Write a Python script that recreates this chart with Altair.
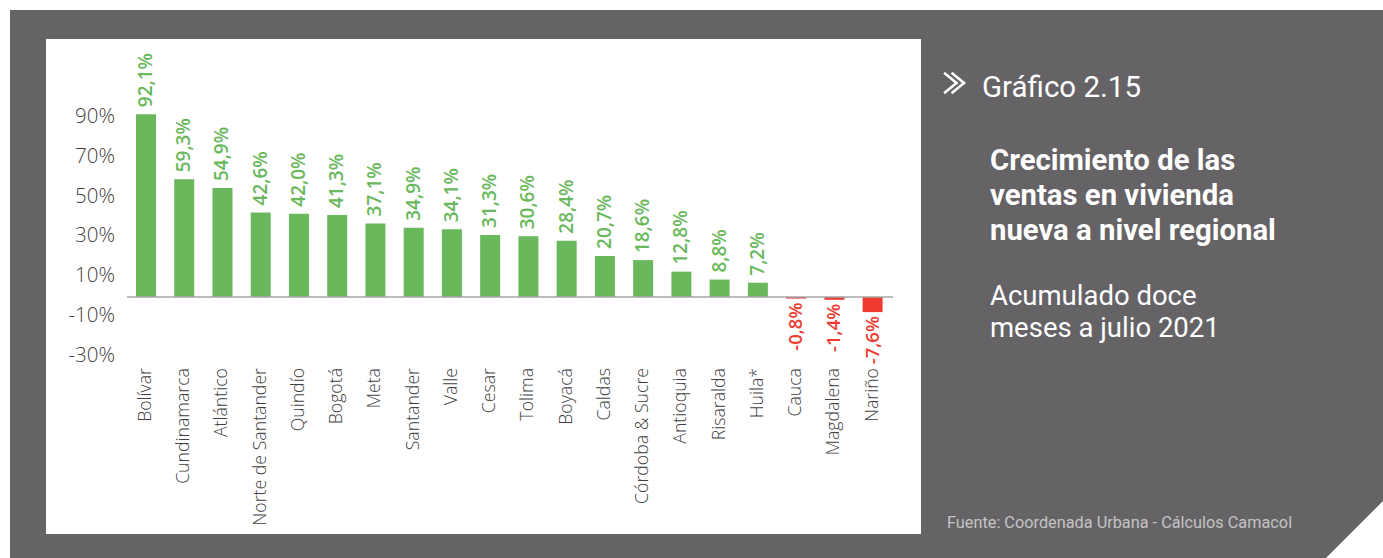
import altair as alt
import pandas as pd

regions = ["Bolívar", "Cundinamarca", "Atlántico", "Norte de Santander", "Quindío",
           "Bogotá", "Meta", "Santander", "Valle", "Cesar", "Tolima", "Boyacá",
           "Caldas", "Córdoba & Sucre", "Antioquia", "Risaralda", "Huila*",
           "Cauca", "Magdalena", "Nariño"]
growth = [92.1, 59.3, 54.9, 42.6, 42.0, 41.3, 37.1, 34.9, 34.1, 31.3, 30.6, 28.4,
          20.7, 18.6, 12.8, 8.8, 7.2, -0.8, -1.4, -7.6]
y_ticks = [90, 70, 50, 30, 10, -10, -30]

title_lines = ["Crecimiento de las", "ventas en vivienda", "nueva a nivel regional"]
subtitle_lines = ["Acumulado doce", "meses a julio 2021"]
chart_number = "Gráfico 2.15"
source = "Fuente: Coordenada Urbana - Cálculos Camacol"

GREEN = "#6ab85c"
RED = "#ee3a2f"
GRAY_BG = "#656366"
FONT = "Open Sans"

df = pd.DataFrame({
    "region": regions,
    "value": growth,
    "label": [f"{v:.1f}%".replace(".", ",") for v in growth],
})
ticks_df = pd.DataFrame({"t": y_ticks, "lab": [f"{t}%" for t in y_ticks]})
one = alt.Data(values=[{"a": 1}])

W, H = 875, 495
xs = alt.Scale(domain=regions, paddingInner=0.477, paddingOuter=0, range=[90, 836.6])
ys = alt.Scale(domain=[-119.4, 130.0], nice=False, zero=False)
X = alt.X("region:N", scale=xs, axis=None, sort=regions)
Y = alt.Y("value:Q", scale=ys, axis=None)

gray_box = alt.Chart(one).mark_rect(color=GRAY_BG).encode(
    x=alt.value(-36), x2=alt.value(1337), y=alt.value(-29), y2=alt.value(519))
panel = alt.Chart(one).mark_rect(color="white").encode(
    x=alt.value(0), x2=alt.value(W), y=alt.value(0), y2=alt.value(H))

bars = alt.Chart(df).mark_bar().encode(
    x=X, y=Y, y2=alt.datum(0),
    color=alt.condition("datum.value >= 0", alt.value(GREEN), alt.value(RED)))

zero = alt.Chart(one).transform_calculate(z="0").mark_rule(
    color="#a6a6a6", strokeWidth=1.5).encode(
    y=alt.Y("z:Q", scale=ys, axis=None), x=alt.value(81), x2=alt.value(847))

pos_labels = alt.Chart(df).transform_filter("datum.value >= 0").mark_text(
    angle=270, align="left", baseline="middle", dx=7, font=FONT,
    fontSize=19, color=GREEN, fontWeight=600).encode(x=X, y=Y, text="label:N")
neg_labels = alt.Chart(df).transform_filter("datum.value < 0").mark_text(
    angle=270, align="right", baseline="middle", dx=-4, font=FONT,
    fontSize=18.5, color=RED, fontWeight=600).encode(x=X, y=Y, text="label:N")

cat_labels = alt.Chart(df).mark_text(
    angle=270, align="right", baseline="middle", font=FONT, fontSize=17.7,
    fontWeight=300, color="#404040").encode(x=X, y=alt.value(329), text="region:N")

ytick_labels = alt.Chart(ticks_df).mark_text(
    align="right", baseline="middle", font=FONT, fontSize=20.5, fontWeight=300,
    color="#404040", dy=-1).encode(
    x=alt.value(69), y=alt.Y("t:Q", scale=ys, axis=None), text="lab:N")

chev = []
for (x0, y0, x1, y1) in [(899, 34.5, 910.5, 44), (910.5, 44, 899, 53.5),
                         (906.5, 34.5, 918, 44), (918, 44, 906.5, 53.5)]:
    chev.append(alt.Chart(one).mark_rule(color="white", strokeWidth=2.5, strokeCap="square").encode(
        x=alt.value(x0), y=alt.value(y0), x2=alt.value(x1), y2=alt.value(y1)))

num_text = alt.Chart(one).mark_text(
    align="left", baseline="alphabetic", font="Roboto", fontSize=29.5, color="white").encode(
    x=alt.value(936), y=alt.value(58), text=alt.value(chart_number))
title_text = alt.Chart(one).mark_text(
    align="left", baseline="alphabetic", font="Roboto", fontSize=29.3, fontWeight="bold",
    color="white", lineHeight=35).encode(
    x=alt.value(944), y=alt.value(131), text=alt.value(title_lines))
sub_text = alt.Chart(one).mark_text(
    align="left", baseline="alphabetic", font="Roboto", fontSize=27.5,
    color="white", lineHeight=32).encode(
    x=alt.value(944), y=alt.value(266), text=alt.value(subtitle_lines))
src_text = alt.Chart(one).mark_text(
    align="left", baseline="alphabetic", font="Roboto", fontSize=16.3,
    color="#c4c4c4").encode(
    x=alt.value(901), y=alt.value(489), text=alt.value(source))

corner = alt.Chart(one).mark_point(
    shape="M1,-1 L1,1 L-1,1 Z", filled=True, color="white", opacity=1, size=5041,
    strokeWidth=0).encode(x=alt.value(1308.5), y=alt.value(490.5))

chart = alt.layer(
    gray_box, panel, bars, zero, pos_labels, neg_labels, cat_labels, ytick_labels,
    *chev, num_text, title_text, sub_text, src_text, corner
).resolve_scale(x="shared", y="shared").properties(
    width=W, height=H,
    autosize=alt.AutoSizeParams(type="none"),
    padding={"left": 46, "top": 39, "right": 462, "bottom": 24},
    background="white",
).configure_view(stroke=None)

chart.save("out.html", embed_options={"renderer": "svg", "actions": False})
